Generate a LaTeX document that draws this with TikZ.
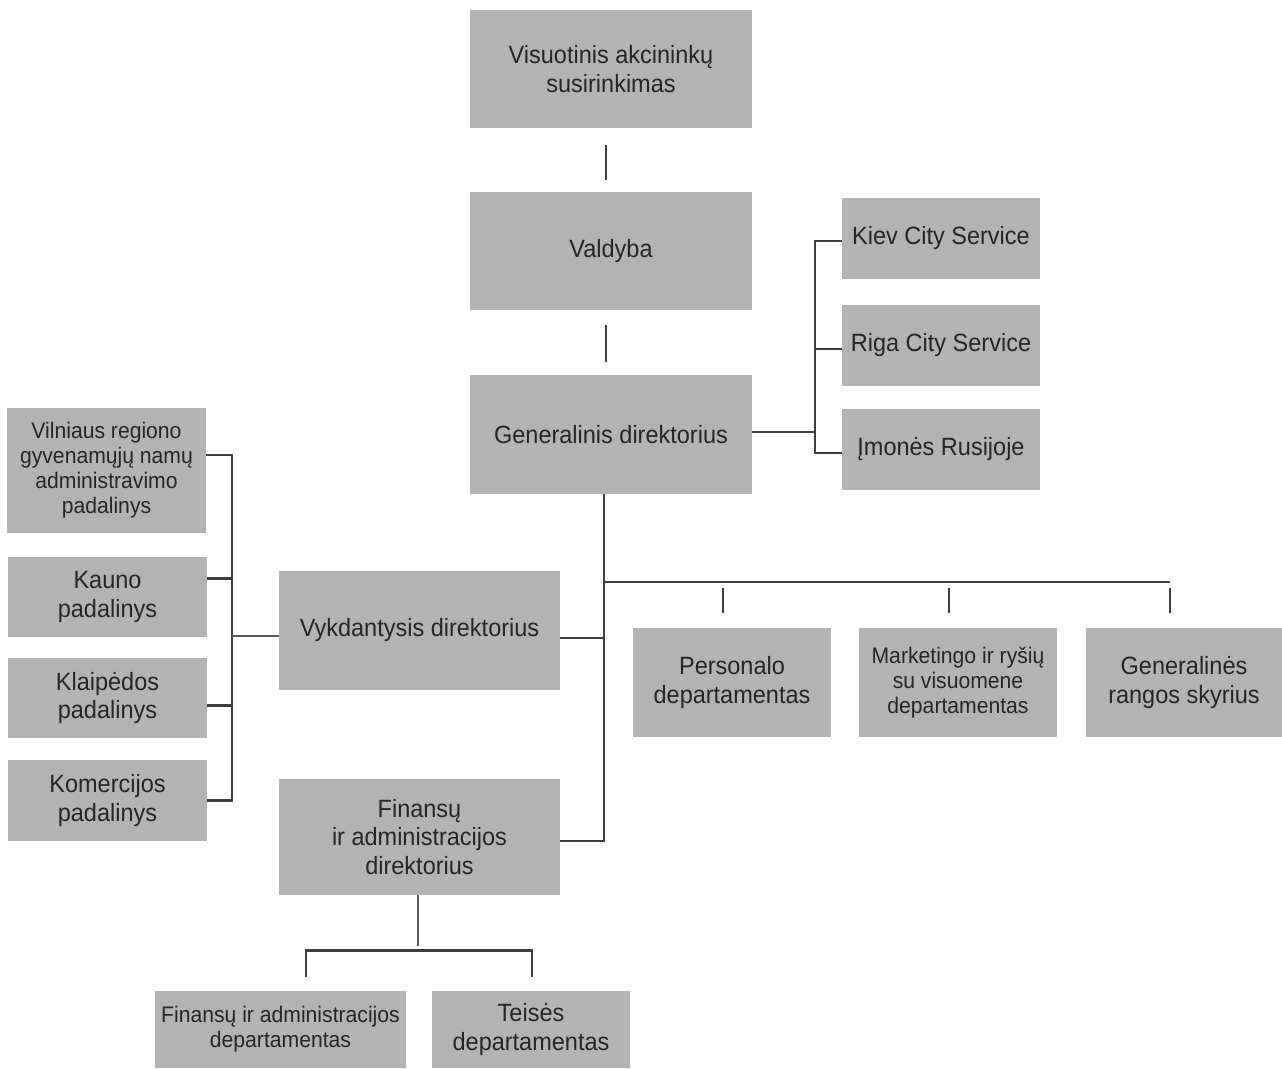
\documentclass[tikz,border=0pt]{standalone}
\usepackage{fontspec}
\setmainfont[FakeStretch=0.94]{Liberation Sans}
\definecolor{boxgray}{HTML}{B3B3B3}
\definecolor{lncol}{HTML}{3D3D3D}
\definecolor{thincol}{HTML}{5A5A5A}
\definecolor{txtcol}{HTML}{262626}
\begin{document}
\begin{tikzpicture}[x=1pt,y=-1pt,
  box/.style={fill=boxgray, draw=none, inner sep=0pt, align=center, text=txtcol,
    font=\fontsize{25}{28.5}\selectfont},
  sbox/.style={box, font=\fontsize{22.5}{25}\selectfont},
  bk/.style={draw=lncol, line width=2.8pt},
  conn/.style={draw=lncol, line width=2.5pt},
  thinln/.style={draw=thincol, line width=1.5pt}]
\useasboundingbox (0,0) rectangle (1282,1068);
% top column
\node[box, minimum width=282pt, minimum height=118pt] (visu) at (611,69) {Visuotinis akcininkų\\susirinkimas};
\node[box, minimum width=282pt, minimum height=118pt] (vald) at (611,251) {Valdyba};
\node[box, minimum width=282pt, minimum height=119pt] (gen) at (611,434.5) {Generalinis direktorius};
% right subsidiaries
\node[box, minimum width=198pt, minimum height=81pt] (kiev) at (941,238.5) {Kiev City Service};
\node[box, minimum width=198pt, minimum height=81pt] (riga) at (941,345.5) {Riga City Service};
\node[box, minimum width=198pt, minimum height=81pt] (imon) at (941,449.5) {Įmonės Rusijoje};
% left branches
\node[sbox, minimum width=199pt, minimum height=125pt] (viln) at (106.5,470.5) {Vilniaus regiono\\gyvenamųjų namų\\administravimo\\padalinys};
\node[box, minimum width=199pt, minimum height=80pt] (kaun) at (107.5,597) {Kauno\\padalinys};
\node[box, minimum width=199pt, minimum height=80pt] (klai) at (107.5,698) {Klaipėdos\\padalinys};
\node[box, minimum width=199pt, minimum height=81pt] (kome) at (107.5,800.5) {Komercijos\\padalinys};
% directors
\node[box, minimum width=281pt, minimum height=119pt] (vykd) at (419.5,630.5) {Vykdantysis direktorius};
\node[box, minimum width=281pt, minimum height=116pt] (fin) at (419.5,837) {Finansų\\ir administracijos\\direktorius};
% departments
\node[box, minimum width=198pt, minimum height=109pt] (pers) at (732,682.5) {Personalo\\departamentas};
\node[sbox, minimum width=198pt, minimum height=109pt] (mark) at (958,682.5) {Marketingo ir ryšių\\su visuomene\\departamentas};
\node[box, minimum width=196pt, minimum height=109pt] (genr) at (1184,682.5) {Generalinės\\rangos skyrius};
\node[sbox, minimum width=251pt, minimum height=77pt] (fdep) at (280.5,1029.5) {Finansų ir administracijos\\departamentas};
\node[box, minimum width=198pt, minimum height=77pt] (teis) at (531,1029.5) {Teisės\\departamentas};
% helper coordinates
\coordinate (rb) at (815,0);
\coordinate (lb) at (232,0);
\coordinate (tr) at (604,0);
\coordinate (hb) at (1170,582);
% top connectors
\draw[conn] ([xshift=-5pt,yshift=-17pt]visu.south) -- ([xshift=-5pt,yshift=12pt]vald.north);
\draw[conn] ([xshift=-5pt,yshift=-15pt]vald.south) -- ([xshift=-5pt,yshift=13pt]gen.north);
% right bracket
\draw[bk] ([yshift=-2.5pt]kiev.west) -- ([yshift=-2.5pt]kiev.west -| rb) -- ([yshift=-3.5pt]imon.west -| rb) -- ([yshift=-3.5pt]imon.west);
\draw[bk] ([yshift=-3.5pt]riga.west) -- ([yshift=-3.5pt]riga.west -| rb);
\draw[bk] ([yshift=2.5pt]gen.east) -- ([yshift=2.5pt]gen.east -| rb);
% left bracket
\draw[bk] ([yshift=15.5pt]viln.east) -- ([yshift=15.5pt]viln.east -| lb) -- (kome.east -| lb) -- (kome.east);
\draw[bk] ([yshift=18.5pt]kaun.east) -- ([yshift=18.5pt]kaun.east -| lb);
\draw[bk] ([yshift=-7.5pt]klai.east) -- ([yshift=-7.5pt]klai.east -| lb);
\draw[thinln] ([yshift=-5.5pt]vykd.west) -- ([yshift=-5.5pt]vykd.west -| lb);
% trunk
\draw[bk] (gen.south -| tr) |- ([yshift=-4pt]fin.east);
\draw[bk] ([yshift=-7.5pt]vykd.east) -- ([yshift=-7.5pt]vykd.east -| tr);
\draw[bk] (hb -| tr) -- (hb);
\draw[conn] ([xshift=-9pt,yshift=15pt]pers.north) -- ([xshift=-9pt,yshift=40pt]pers.north);
\draw[conn] ([xshift=-9pt,yshift=15pt]mark.north) -- ([xshift=-9pt,yshift=40pt]mark.north);
\draw[conn] ([xshift=-14pt,yshift=15pt]genr.north) -- ([xshift=-14pt,yshift=40pt]genr.north);
% bottom
\draw[thinln] ([xshift=-1.5pt]fin.south) -- ([xshift=-1.5pt,yshift=-51pt]fin.south);
\draw[bk] ([xshift=25.5pt,yshift=14pt]fdep.north) -- ([xshift=25.5pt,yshift=40pt]fdep.north) -- ([xshift=1pt,yshift=40pt]teis.north) -- ([xshift=1pt,yshift=14pt]teis.north);
\end{tikzpicture}
\end{document}
